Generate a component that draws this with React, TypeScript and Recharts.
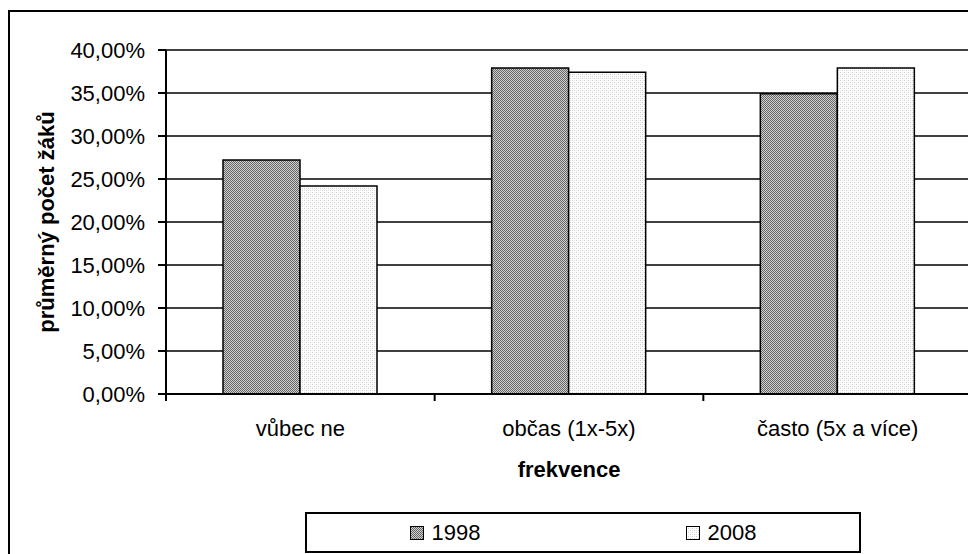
import { BarChart, Bar, XAxis, YAxis, CartesianGrid, Legend } from "recharts";

const categories = ["vůbec ne", "občas (1x-5x)", "často (5x a více)"];
const values1998 = [27.2, 37.9, 34.9];
const values2008 = [24.2, 37.4, 37.9];
const yTicks = [0, 5, 10, 15, 20, 25, 30, 35, 40];
const seriesNames = ["1998", "2008"];
const patternIds = ["p1998", "p2008"];

const data = categories.map((name, i) => ({
  name,
  y1998: values1998[i],
  y2008: values2008[i],
}));

const W = 968;
const H = 546;
const AXIS_W = 158;
const MARGIN = { top: 42, right: 4, bottom: 0, left: 0 };
const BAND = (W - AXIS_W - MARGIN.right) / categories.length;
const FONT = "'Liberation Sans', Arial, sans-serif";
const FS = 22;

const pct = (v: number) => `${v.toFixed(2).replace(".", ",")}%`;

// category label plus the tick marks between categories
function CategoryTick(props: any) {
  const { x, y, payload, index } = props;
  const half = BAND / 2;
  return (
    <g>
      <line x1={x - half} x2={x - half} y1={y} y2={y + 7} stroke="#000" strokeWidth={2} />
      {index === categories.length - 1 && (
        <line x1={x + half} x2={x + half} y1={y} y2={y + 7} stroke="#000" strokeWidth={2} />
      )}
      <text x={x} y={y + 42} textAnchor="middle" fontSize={FS} fontFamily={FONT} fill="#000">
        {payload.value}
      </text>
    </g>
  );
}

function YTitle(props: any) {
  const vb = props.viewBox || { x: 0, y: MARGIN.top, width: AXIS_W, height: 344 };
  const cx = vb.x + 38;
  const cy = vb.y + vb.height / 2;
  return (
    <text
      x={cx}
      y={cy}
      transform={`rotate(-90 ${cx} ${cy})`}
      textAnchor="middle"
      dominantBaseline="central"
      fontSize={FS}
      fontWeight="bold"
      fontFamily={FONT}
      fill="#000"
    >
      průměrný počet žáků
    </text>
  );
}

function XTitle(props: any) {
  const vb = props.viewBox || { x: AXIS_W, y: 386, width: 806, height: 0 };
  return (
    <text
      x={vb.x + vb.width / 2}
      y={vb.y + 83}
      textAnchor="middle"
      fontSize={FS}
      fontWeight="bold"
      fontFamily={FONT}
      fill="#000"
    >
      frekvence
    </text>
  );
}

function LegendBox(props: any) {
  const items = (props.payload && props.payload.length ? props.payload : seriesNames.map((n) => ({ value: n })))
    .map((p: any, i: number) => ({ name: p.value, fill: `url(#${patternIds[i]})` }));
  return (
    <div
      style={{
        boxSizing: "border-box",
        width: "100%",
        height: "100%",
        border: "2px solid #000",
        display: "flex",
        alignItems: "center",
        fontFamily: FONT,
        fontSize: FS,
        color: "#000",
      }}
    >
      {items.map((it: any) => (
        <div key={it.name} style={{ flex: 1, display: "flex", justifyContent: "center", alignItems: "center" }}>
          <svg width={14} height={14} style={{ marginRight: 8 }}>
            <rect x={0.5} y={0.5} width={13} height={13} fill={it.fill} stroke="#000" strokeWidth={1} />
          </svg>
          <span>{it.name}</span>
        </div>
      ))}
    </div>
  );
}

export default function App() {
  return (
    <div style={{ position: "relative", width: W, height: H }}>
      <div
        style={{
          position: "absolute",
          left: 0,
          top: 2,
          width: W,
          height: H - 2,
          boxSizing: "border-box",
          borderLeft: "2px solid #000",
          borderTop: "2px solid #000",
        }}
      />
      <div style={{ position: "absolute", left: 0, top: 0 }}>
        <BarChart width={W} height={H} data={data} margin={MARGIN} barSize={77} barGap={0}>
          <defs>
            <pattern id="p1998" width={2} height={2} patternUnits="userSpaceOnUse">
              <rect x={0} y={0} width={2} height={2} fill="#d0d0d0" />
              <rect x={0} y={0} width={1} height={1} fill="#666" />
              <rect x={1} y={1} width={1} height={1} fill="#666" />
            </pattern>
            <pattern id="p2008" width={4} height={4} patternUnits="userSpaceOnUse">
              <rect x={0} y={0} width={4} height={4} fill="#fff" />
              <rect x={0} y={0} width={1} height={1} fill="#c8c8c8" />
              <rect x={2} y={2} width={1} height={1} fill="#c8c8c8" />
              <rect x={2} y={0} width={1} height={1} fill="#e4e4e4" />
              <rect x={0} y={2} width={1} height={1} fill="#e4e4e4" />
            </pattern>
          </defs>
          <CartesianGrid vertical={false} stroke="#000" strokeWidth={1.5} />
          <XAxis
            dataKey="name"
            height={H - MARGIN.top - 344}
            axisLine={{ stroke: "#000", strokeWidth: 2 }}
            tickLine={false}
            tickSize={0}
            tickMargin={0}
            tick={<CategoryTick />}
            interval={0}
            label={<XTitle />}
          />
          <XAxis
            xAxisId="top"
            dataKey="name"
            orientation="top"
            height={0}
            axisLine={{ stroke: "#808080", strokeWidth: 2 }}
            tick={false}
            tickLine={false}
          />
          <YAxis
            width={AXIS_W}
            domain={[0, 40]}
            ticks={yTicks}
            tickFormatter={pct}
            axisLine={{ stroke: "#000", strokeWidth: 2 }}
            tickLine={{ stroke: "#000", strokeWidth: 2 }}
            tickSize={8}
            tickMargin={13}
            tick={{ fontSize: FS, fill: "#000", fontFamily: FONT }}
            label={<YTitle />}
          />
          <YAxis
            yAxisId="right"
            orientation="right"
            width={0}
            domain={[0, 40]}
            axisLine={{ stroke: "#808080", strokeWidth: 2 }}
            tick={false}
            tickLine={false}
          />
          <Legend
            layout="vertical"
            align="center"
            verticalAlign="middle"
            content={<LegendBox />}
            wrapperStyle={{ left: 297, top: 504, width: 556, height: 41 }}
          />
          <Bar dataKey="y1998" name="1998" fill="url(#p1998)" stroke="#000" strokeWidth={1.5} isAnimationActive={false} />
          <Bar dataKey="y2008" name="2008" fill="url(#p2008)" stroke="#000" strokeWidth={1.5} isAnimationActive={false} />
        </BarChart>
      </div>
    </div>
  );
}
